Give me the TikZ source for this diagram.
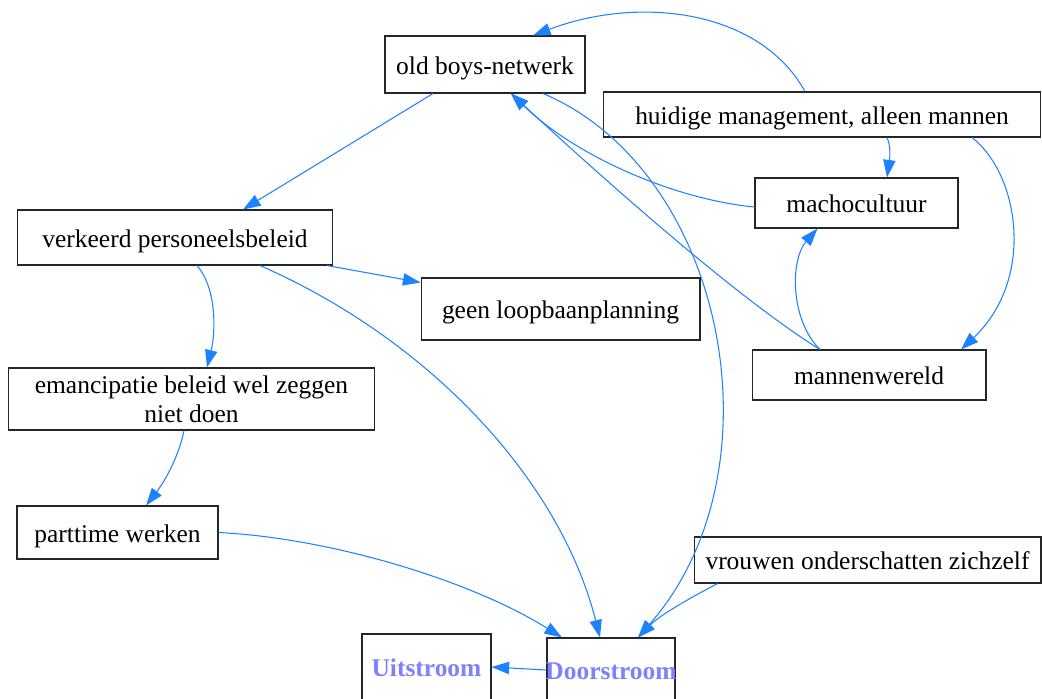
\documentclass[tikz,border=0pt]{standalone}
\usepackage{fontspec}
\setmainfont{Liberation Serif}
\usetikzlibrary{arrows.meta,calc}
\definecolor{edgeblue}{RGB}{30,130,255}
\definecolor{flowtext}{RGB}{128,128,255}
\begin{document}
\begin{tikzpicture}[x=0.02cm,y=-0.02cm,
  box/.style={draw=black!85, line width=0.6pt, rectangle, inner sep=0pt,
    font=\fontsize{14.5}{16.4}\selectfont, align=center},
  onebox/.style={box, text height=1.1em, text depth=0em},
  flowbox/.style={onebox, text=flowtext, font=\fontsize{14.5}{16.4}\selectfont\bfseries},
  link/.style={draw=edgeblue, line width=0.6pt, -{Triangle[length=10pt,width=7pt]}}]
\useasboundingbox (0,0) rectangle (1042,698);

% nodes
\node[onebox, minimum width=4.00cm, minimum height=1.14cm] (ob) at (485,64.5) {old boys-netwerk};
\node[onebox, minimum width=8.76cm, minimum height=0.90cm] (hm) at (822,114.5) {huidige management, alleen mannen};
\node[onebox, minimum width=4.06cm, minimum height=1.00cm] (mc) at (856.5,203) {machocultuur};
\node[onebox, minimum width=6.32cm, minimum height=1.10cm] (vp) at (175,237.5) {verkeerd personeelsbeleid};
\node[onebox, minimum width=5.58cm, minimum height=1.24cm] (gl) at (560.5,309) {geen loopbaanplanning};
\node[onebox, minimum width=4.68cm, minimum height=1.00cm] (mw) at (869,375) {mannenwereld};
\node[box, minimum width=7.34cm, minimum height=1.24cm] (em) at (191.5,399) {emancipatie beleid wel zeggen\\niet doen};
\node[onebox, minimum width=4.02cm, minimum height=1.06cm] (pt) at (117.5,532.5) {parttime werken};
\node[onebox, minimum width=6.94cm, minimum height=0.92cm] (vz) at (867.5,560) {vrouwen onderschatten zichzelf};
\node[flowbox, minimum width=2.58cm, minimum height=1.32cm] (ui) at (426.5,667) {Uitstroom};
\node[flowbox, inner xsep=-0.05cm, minimum width=2.56cm, minimum height=1.28cm] (ds) at (611,670) {Doorstroom};

% connectors
\draw[link] ($(hm.north)+(-17,0)$) .. controls (760,10) and (640,-5) .. ($(ob.north)+(48,0)$);
\draw[link] ($(ob.south)+(-52,0)$) -- ($(vp.north)+(68,0)$);
\draw[link] ($(ob.south)+(58,0)$) .. controls (725,170) and (785,470) .. ($(ds.north)+(27,0)$);
\draw[link] ($(mc.west)+(0,4)$) .. controls (680,200) and (580,160) .. ($(ob.south)+(26,0)$);
\draw[link] ($(mw.north)+(-49,0)$) .. controls (740,300) and (610,185) .. ($(ob.south)+(26,0)$);
\draw[link] ($(mw.north)+(-49,0)$) .. controls (790,320) and (790,260) .. ($(mc.south)+(-39,0)$);
\draw[link] ($(hm.south)+(65,0)$) .. controls (892,148) and (889,163) .. ($(mc.north)+(30.5,0)$);
\draw[link] ($(hm.south)+(150,0)$) .. controls (1020,175) and (1035,280) .. ($(mw.north)+(92,0)$);
\draw[link] ($(vp.south)+(152,0)$) -- ($(gl.north west)+(0,5)$);
\draw[link] ($(vp.south)+(22,0)$) .. controls (218,290) and (215,335) .. ($(em.north)+(15.5,0)$);
\draw[link] ($(vp.south)+(85,0)$) .. controls (430,340) and (560,480) .. ($(ds.north)+(-11,0)$);
\draw[link] ($(em.south)+(-7.5,0)$) .. controls (178,460) and (162,485) .. ($(pt.north)+(28.5,0)$);
\draw[link] (pt.east) .. controls (330,538) and (470,580) .. ($(ds.north)+(-49,0)$);
\draw[link] ($(vz.south west)+(24,0)$) .. controls (690,598) and (660,615) .. ($(ds.north)+(27,0)$);
\draw[link] (ds.west) -- (ui.east);
\end{tikzpicture}
\end{document}
